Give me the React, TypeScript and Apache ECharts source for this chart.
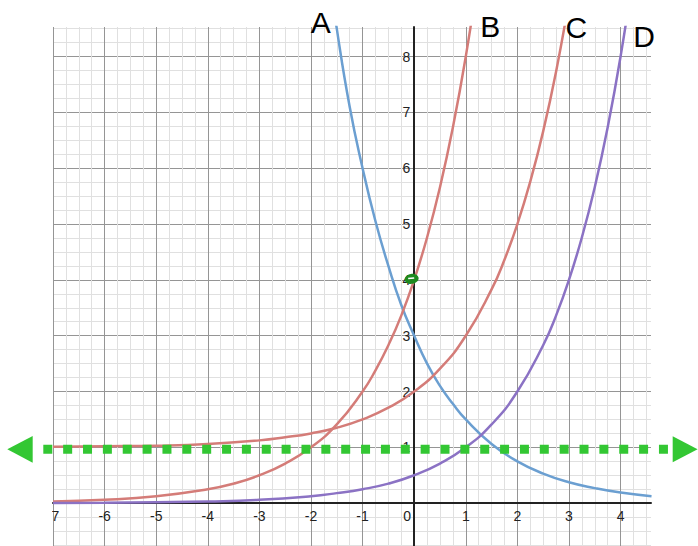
import { useEffect, useRef } from 'react';
import * as echarts from 'echarts';

// Tick labels shown on each axis
const xLabelValues = [-7, -6, -5, -4, -3, -2, -1, 0, 1, 2, 3, 4];
const yLabelValues = [1, 2, 3, 4, 5, 6, 7, 8];

// Curve names (drawn as the big letters at the top of each curve)
const curveNames = ['A', 'B', 'C', 'D'];

// Curve A: decreasing, through (0, 3)
const curveA: [number, number][] = [
  [-1.75, 10.1], [-1.5, 8.5], [-1.25, 7.1], [-1, 6], [-0.75, 5.05], [-0.5, 4.25],
  [-0.25, 3.55], [0, 3], [0.25, 2.5], [0.5, 2.1], [0.75, 1.78], [1, 1.5],
  [1.5, 1.06], [2, 0.75], [2.5, 0.53], [3, 0.375], [3.5, 0.27], [4, 0.19], [4.6, 0.125],
];

// Curve B: through (0, 4)
const curveB: [number, number][] = [
  [-7, 0.03], [-6, 0.06], [-5, 0.125], [-4, 0.25], [-3.5, 0.35], [-3, 0.5],
  [-2.5, 0.71], [-2, 1], [-1.5, 1.41], [-1, 2], [-0.75, 2.38], [-0.5, 2.83],
  [-0.25, 3.36], [0, 4], [0.25, 4.76], [0.5, 5.66], [0.75, 6.73], [1, 8], [1.25, 9.5],
];

// Curve C: through (0, 2), levelling off at 1 on the left
const curveC: [number, number][] = [
  [-7, 1.01], [-6, 1.02], [-5, 1.03], [-4, 1.06], [-3, 1.125], [-2.5, 1.18],
  [-2, 1.25], [-1.5, 1.35], [-1, 1.5], [-0.5, 1.71], [0, 2], [0.5, 2.41],
  [1, 3], [1.5, 3.83], [1.75, 4.36], [2, 5], [2.25, 5.76], [2.5, 6.66], [2.75, 7.73], [3, 9],
];

// Curve D: through (0, 0.5)
const curveD: [number, number][] = [
  [-7, 0.004], [-6, 0.008], [-5, 0.016], [-4, 0.03], [-3, 0.06], [-2, 0.125],
  [-1.5, 0.18], [-1, 0.25], [-0.5, 0.35], [0, 0.5], [0.5, 0.71], [1, 1],
  [1.5, 1.41], [2, 2], [2.5, 2.83], [2.75, 3.36], [3, 4], [3.25, 4.76],
  [3.5, 5.66], [3.75, 6.73], [4, 8], [4.25, 9.5],
];

// Horizontal asymptote marker and the highlighted point
const asymptoteY = 1;
const markedPoint: [number, number] = [0, 4];

// Plot window
const X_MIN = -7;
const X_MAX = 4.59;
const Y_MIN = -1;
const Y_MAX = 8.53;
const GRID = { left: 53, top: 27, width: 598, height: 532 };

const MAJOR = '#959595';
const MINOR = '#e0e0e0';
const GREEN = '#33c733';
const FONT = 'Liberation Sans, Arial, Helvetica, sans-serif';
const LABEL_SIZE = 14;

const isInt = (v: number) => Math.abs(v - Math.round(v)) < 1e-6;

export default function App() {
  const ref = useRef<HTMLDivElement>(null);

  useEffect(() => {
    if (!ref.current) return;
    const chart = echarts.init(ref.current, null, { renderer: 'svg' });

    // Shift each axis (line + labels) from the grid edge onto the other axis's zero
    const yAxisOffset = -((0 - X_MIN) / (X_MAX - X_MIN)) * GRID.width;
    const xAxisOffset = -((0 - Y_MIN) / (Y_MAX - Y_MIN)) * GRID.height;

    const makeSeries = (name: string, data: [number, number][], color: string) => ({
      type: 'line',
      name,
      data,
      showSymbol: false,
      smooth: 0.5,
      clip: true,
      silent: true,
      z: 3,
      lineStyle: { color, width: 2.5 },
    });

    chart.setOption({
      animation: false,
      backgroundColor: '#ffffff',
      grid: { ...GRID, containLabel: false, outerBoundsMode: 'none' },
      xAxis: {
        type: 'value',
        position: 'bottom',
        min: X_MIN,
        max: X_MAX,
        interval: 0.25,
        offset: xAxisOffset,
        axisLine: { onZero: false, lineStyle: { color: '#222', width: 2 } },
        axisTick: { show: false },
        axisLabel: {
          margin: 6,
          fontSize: LABEL_SIZE,
          fontFamily: FONT,
          color: '#222',
          formatter: (v: number) => {
            if (!isInt(v)) return '';
            const r = Math.round(v);
            if (!xLabelValues.includes(r)) return '';
            return r === 0 ? '{z|0}' : String(r);
          },
          rich: {
            z: { fontSize: LABEL_SIZE, fontFamily: FONT, color: '#222', padding: [0, 14, 0, 0] },
          },
        },
        splitLine: {
          show: true,
          showMaxLine: false,
          lineStyle: { color: [MAJOR, MINOR, MINOR, MINOR], width: 1 },
        },
      },
      yAxis: {
        type: 'value',
        position: 'left',
        min: Y_MIN,
        max: Y_MAX,
        interval: 0.25,
        offset: yAxisOffset,
        axisLine: { onZero: false, lineStyle: { color: '#222', width: 2 } },
        axisTick: { show: false },
        axisLabel: {
          margin: 4,
          fontSize: LABEL_SIZE,
          fontFamily: FONT,
          color: '#222',
          formatter: (v: number) => {
            if (!isInt(v)) return '';
            const r = Math.round(v);
            return yLabelValues.includes(r) ? String(r) : '';
          },
        },
        splitLine: {
          show: true,
          showMaxLine: false,
          lineStyle: { color: [MAJOR, MINOR, MINOR, MINOR], width: 1 },
        },
      },
      series: [
        makeSeries(curveNames[0], curveA, '#6b9fd1'),
        makeSeries(curveNames[1], curveB, '#d47c78'),
        makeSeries(curveNames[2], curveC, '#d47c78'),
        makeSeries(curveNames[3], curveD, '#8b72c4'),
      ],
    });

    const yLine = (chart.convertToPixel({ gridIndex: 0 }, [0, asymptoteY]) as number[])[1] + 2;
    const [px, py] = chart.convertToPixel({ gridIndex: 0 }, markedPoint) as number[];

    const letter = (text: string, x: number, y: number) => ({
      type: 'text',
      x,
      y,
      z: 80,
      style: {
        text,
        fontSize: 30,
        fontFamily: FONT,
        fill: '#000',
        align: 'center',
        verticalAlign: 'middle',
      },
    });

    chart.setOption({
      graphic: [
        // mask the cropped leftmost tick label
        { type: 'rect', z: 50, shape: { x: 0, y: 506, width: 52, height: 40 }, style: { fill: '#fff' } },
        {
          type: 'line',
          z: 60,
          shape: { x1: 43.3, y1: yLine, x2: 668.5, y2: yLine },
          style: { stroke: GREEN, lineWidth: 9, lineDash: [9, 10.86], lineCap: 'butt' },
        },
        {
          type: 'polygon',
          z: 60,
          shape: { points: [[7.3, yLine], [32.7, yLine - 13.3], [32.7, yLine + 13.3]] },
          style: { fill: GREEN },
        },
        {
          type: 'polygon',
          z: 60,
          shape: { points: [[672.7, yLine - 13], [697.6, yLine], [672.7, yLine + 13]] },
          style: { fill: GREEN },
        },
        {
          type: 'ellipse',
          z: 70,
          x: px - 2.5,
          y: py - 1,
          rotation: 0.15,
          shape: { cx: 0, cy: 0, rx: 7, ry: 5 },
          style: { fill: '#1f8a1f' },
        },
        {
          type: 'line',
          z: 71,
          shape: { x1: px - 6, y1: py - 1.5, x2: px, y2: py - 2 },
          style: { stroke: '#ffffff', lineWidth: 1.5 },
        },
        letter(curveNames[0], 320.7, 22.5),
        letter(curveNames[1], 490.2, 26),
        letter(curveNames[2], 576.3, 27.7),
        letter(curveNames[3], 644, 36.9),
      ],
    });

    return () => chart.dispose();
  }, []);

  return (
    <div
      ref={ref}
      style={{ position: 'absolute', left: 0, top: 0, width: 698, height: 546, background: '#fff' }}
    />
  );
}
